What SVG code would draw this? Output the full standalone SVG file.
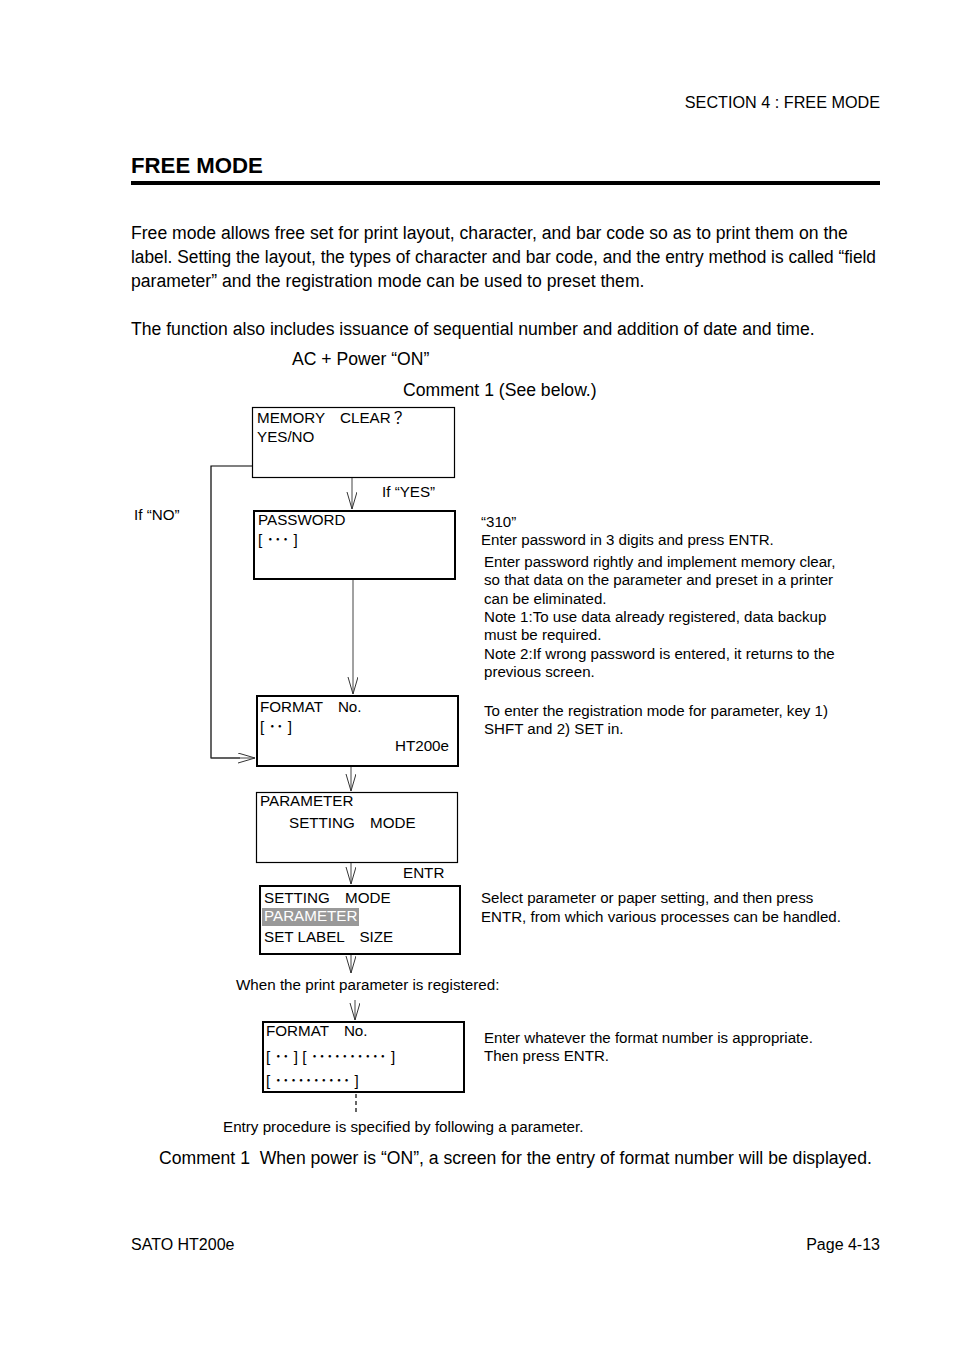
<svg xmlns="http://www.w3.org/2000/svg" width="954" height="1351" viewBox="0 0 954 1351">
<defs>
<style>
text{font-family:"Liberation Sans","Noto Sans CJK JP",Arial,sans-serif;fill:#000}
.p{font-size:17.6px}
.n{font-size:15.1px}
.l{font-size:15.2px}
.b{font-size:15.2px}
.box{fill:#fff;stroke:#000}
.thin{stroke-width:1.2}
.thick{stroke-width:2}
.con{fill:none;stroke:#000;stroke-width:1.2}
.arr{fill:none;stroke:#444;stroke-width:1}
</style>
<marker id="ah" markerUnits="userSpaceOnUse" markerWidth="20" markerHeight="12" refX="17" refY="5" orient="auto">
<path d="M0,0 L17,5 L0,10" fill="none" stroke="#333" stroke-width="1"/>
</marker>
</defs>
<rect width="954" height="1351" fill="#fff"/>
<g id="header">
<text x="880" y="108" text-anchor="end" style="font-size:16.2px">SECTION 4 : FREE MODE</text>
<text x="131" y="173" style="font-size:22.2px;font-weight:bold">FREE MODE</text>
<rect x="131" y="181" width="749" height="4" fill="#000"/>
</g>
<g id="intro">
<text class="p" x="131" y="239">Free mode allows free set for print layout, character, and bar code so as to print them on the</text>
<text class="p" x="131" y="263" textLength="745" lengthAdjust="spacingAndGlyphs">label. Setting the layout, the types of character and bar code, and the entry method is called “field</text>
<text class="p" x="131" y="287">parameter” and the registration mode can be used to preset them.</text>
<text class="p" x="131" y="335">The function also includes issuance of sequential number and addition of date and time.</text>
<text class="p" x="292" y="365">AC + Power “ON”</text>
<text class="p" x="403" y="396">Comment 1 (See below.)</text>
</g>
<g id="connectors">
<line class="arr" x1="352" y1="477" x2="352" y2="509" marker-end="url(#ah)"/>
<line class="arr" x1="353" y1="579" x2="353" y2="694" marker-end="url(#ah)"/>
<polyline class="con" points="252,466 211,466 211,758 240,758"/>
<line class="arr" x1="211" y1="758" x2="255" y2="758" marker-end="url(#ah)"/>
<line class="arr" x1="351" y1="766" x2="351" y2="791" marker-end="url(#ah)"/>
<line class="arr" x1="351" y1="862" x2="351" y2="884" marker-end="url(#ah)"/>
<line class="arr" x1="351" y1="954" x2="351" y2="973" marker-end="url(#ah)"/>
<line class="arr" x1="355" y1="1000" x2="355" y2="1020" marker-end="url(#ah)"/>
<line x1="356" y1="1094" x2="356" y2="1114" stroke="#000" stroke-width="1.2" stroke-dasharray="4,3"/>
</g>
<g id="labels">
<text class="l" x="382" y="497">If “YES”</text>
<text class="l" x="134" y="520">If “NO”</text>
<text class="l" x="403" y="878">ENTR</text>
<text class="l" x="236" y="990">When the print parameter is registered:</text>
<text class="l" x="223" y="1132">Entry procedure is specified by following a parameter.</text>
</g>
<g id="node-memory">
<rect class="box thin" x="252.5" y="407.5" width="202" height="70"/>
<text class="b" x="257" y="423">MEMORY　CLEAR？</text>
<text class="b" x="257" y="442">YES/NO</text>
</g>
<g id="node-password">
<rect class="box thick" x="254" y="511" width="201" height="68"/>
<text class="b" x="258" y="525">PASSWORD</text>
<text class="b" x="258" y="545">[ ･･･ ]</text>
</g>
<g id="node-format1">
<rect class="box thick" x="257" y="696" width="201" height="70"/>
<text class="b" x="260" y="712">FORMAT　No.</text>
<text class="b" x="260" y="732">[ ･･ ]</text>
<text class="b" x="449" y="751" text-anchor="end">HT200e</text>
</g>
<g id="node-parameter">
<rect class="box thin" x="256.5" y="792.5" width="201" height="70"/>
<text class="b" x="260" y="806">PARAMETER</text>
<text class="b" x="289" y="828">SETTING　MODE</text>
</g>
<g id="node-setting">
<rect class="box thick" x="260" y="886" width="200" height="68"/>
<text class="b" x="264" y="903">SETTING　MODE</text>
<rect x="262" y="908" width="97" height="18" fill="#999"/>
<text class="b" x="264" y="921" style="fill:#fff">PARAMETER</text>
<text class="b" x="264" y="942">SET LABEL　SIZE</text>
</g>
<g id="node-format2">
<rect class="box thick" x="263" y="1022" width="201" height="70"/>
<text class="b" x="266" y="1036">FORMAT　No.</text>
<text class="b" x="266" y="1062">[ ･･ ] [ ･･････････ ]</text>
<text class="b" x="266" y="1086">[ ･･････････ ]</text>
</g>
<g id="notes">
<text class="n" x="481" y="527">“310”</text>
<text class="n" x="481" y="545">Enter password in 3 digits and press ENTR.</text>
<text class="n" x="484" y="567">Enter password rightly and implement memory clear,</text>
<text class="n" x="484" y="585">so that data on the parameter and preset in a printer</text>
<text class="n" x="484" y="604">can be eliminated.</text>
<text class="n" x="484" y="622">Note 1:To use data already registered, data backup</text>
<text class="n" x="484" y="640">must be required.</text>
<text class="n" x="484" y="659">Note 2:If wrong password is entered, it returns to the</text>
<text class="n" x="484" y="677">previous screen.</text>
<text class="n" x="484" y="716">To enter the registration mode for parameter, key 1)</text>
<text class="n" x="484" y="734">SHFT and 2) SET in.</text>
<text class="n" x="481" y="903">Select parameter or paper setting, and then press</text>
<text class="n" x="481" y="922">ENTR, from which various processes can be handled.</text>
<text class="n" x="484" y="1043">Enter whatever the format number is appropriate.</text>
<text class="n" x="484" y="1061">Then press ENTR.</text>
</g>
<g id="footer">
<text class="p" x="159" y="1164">Comment 1 &#160;When power is “ON”, a screen for the entry of format number will be displayed.</text>
<text x="131" y="1250" style="font-size:16px">SATO HT200e</text>
<text x="880" y="1250" text-anchor="end" style="font-size:16px">Page 4-13</text>
</g>
</svg>
